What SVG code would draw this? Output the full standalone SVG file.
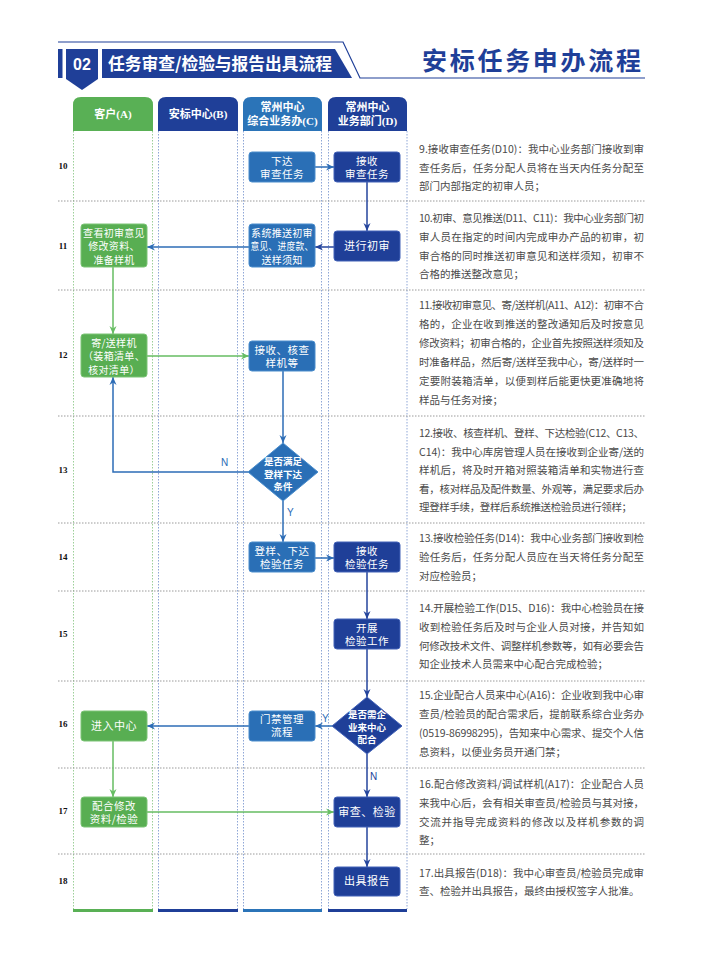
<svg xmlns="http://www.w3.org/2000/svg" width="703" height="954" viewBox="0 0 703 954">
<defs>
<style>
.cjk{font-family:"Noto Sans CJK SC","Noto Sans",sans-serif}
.nt{font-family:"Noto Sans CJK SC",sans-serif;font-size:10.5px;fill:#fff;text-anchor:middle;letter-spacing:0.5px}
.nt1{font-family:"Noto Sans CJK SC",sans-serif;font-size:11px;fill:#fff;text-anchor:middle;letter-spacing:0.5px}
.nt3{font-family:"Noto Sans CJK SC",sans-serif;font-size:10px;fill:#fff;text-anchor:middle;letter-spacing:0.3px}
.dt{font-family:"Noto Sans CJK SC",sans-serif;font-size:9.5px;fill:#fff;text-anchor:middle;font-weight:bold}
.hd{font-family:"Liberation Serif","Noto Sans CJK SC",serif;font-size:11px;fill:#fff;text-anchor:middle;font-weight:bold}
.rn{font-family:"Liberation Serif",serif;font-size:9px;font-weight:bold;fill:#111;text-anchor:middle}
.pt{font-family:"Noto Sans CJK SC",sans-serif;font-size:10.5px;fill:#4a4a4a}
.gr{fill:#58ae52;stroke:#7cc476;stroke-width:1}
.mb{fill:#2a6fb6;stroke:#4a8dcc;stroke-width:1}
.db{fill:#1f3f98;stroke:#4262b8;stroke-width:1}
.sep{stroke:#9a9a9a;stroke-width:1;stroke-dasharray:1.5 1.5;fill:none}
.lg{stroke:#9ccf98;stroke-width:1;stroke-dasharray:1.5 1.5}
.lb{stroke:#8ea6d6;stroke-width:1;stroke-dasharray:1.5 1.5}
.ag{stroke:#66bd62;stroke-width:1.5;fill:none;marker-end:url(#mg)}
.am{stroke:#2c6cb6;stroke-width:1.5;fill:none;marker-end:url(#mm)}
.ad{stroke:#24449c;stroke-width:1.5;fill:none;marker-end:url(#md)}
.yn{font-family:"Liberation Sans",sans-serif;font-size:10px;fill:#2a6cb6}
</style>
<marker id="mg" markerUnits="userSpaceOnUse" markerWidth="9" markerHeight="9" refX="8" refY="4" orient="auto"><path d="M0,0.5 L8,4 L0,7.5 L2.5,4 z" fill="#66bd62"/></marker>
<marker id="mm" markerUnits="userSpaceOnUse" markerWidth="9" markerHeight="9" refX="8" refY="4" orient="auto"><path d="M0,0.5 L8,4 L0,7.5 L2.5,4 z" fill="#2c6cb6"/></marker>
<marker id="md" markerUnits="userSpaceOnUse" markerWidth="9" markerHeight="9" refX="8" refY="4" orient="auto"><path d="M0,0.5 L8,4 L0,7.5 L2.5,4 z" fill="#24449c"/></marker>
</defs>
<rect width="703" height="954" fill="#fff"/>

<g id="header">
<polyline points="58,42 343,42 360,78 645,78" fill="none" stroke="#1f3f98" stroke-width="1.2"/>
<rect x="58" y="49" width="4.5" height="29" fill="#1f3f98"/>
<polygon points="66,49 98,49 98,79 82,90 66,79" fill="#1f3f98"/>
<text x="82" y="70" font-family="Liberation Sans,sans-serif" font-size="16" font-weight="bold" fill="#fff" text-anchor="middle">02</text>
<polygon points="102,49 335,49 352,78 102,78" fill="#1f3f98"/>
<text x="108" y="70" class="cjk" font-size="17" font-weight="bold" fill="#fff" textLength="224" lengthAdjust="spacingAndGlyphs">任务审查/检验与报告出具流程</text>
<text x="422" y="70" class="cjk" font-size="25" font-weight="bold" fill="#1f3f98" textLength="219" lengthAdjust="spacing">安标任务申办流程</text>
</g>

<g id="lanes">
<path d="M73,131 V105 Q73,97 81,97 H145 Q153,97 153,105 V131 Z" fill="#59b055"/>
<path d="M158,131 V105 Q158,97 166,97 H230 Q238,97 238,105 V131 Z" fill="#1f3f98"/>
<path d="M243,131 V105 Q243,97 251,97 H314 Q322,97 322,105 V131 Z" fill="#2b74b8"/>
<path d="M328,131 V105 Q328,97 336,97 H399 Q407,97 407,105 V131 Z" fill="#1f3f98"/>
<text x="113" y="118" class="hd">客户(A)</text>
<text x="198" y="118" class="hd">安标中心(B)</text>
<text x="282.5" y="111" class="hd">常州中心</text>
<text x="282.5" y="125" class="hd">综合业务办(C)</text>
<text x="367.5" y="111" class="hd">常州中心</text>
<text x="367.5" y="125" class="hd">业务部门(D)</text>
<line x1="73.5" y1="131" x2="73.5" y2="909" class="lg"/>
<line x1="152.5" y1="131" x2="152.5" y2="909" class="lg"/>
<line x1="158.5" y1="131" x2="158.5" y2="909" class="lb"/>
<line x1="237.5" y1="131" x2="237.5" y2="909" class="lb"/>
<line x1="243.5" y1="131" x2="243.5" y2="909" class="lb"/>
<line x1="321.5" y1="131" x2="321.5" y2="909" class="lb"/>
<line x1="328.5" y1="131" x2="328.5" y2="909" class="lb"/>
<line x1="407" y1="131" x2="407" y2="909" class="lb"/>
<rect x="73" y="909" width="80" height="3" fill="#59b055"/>
<rect x="158" y="909" width="80" height="3" fill="#1f3f98"/>
<rect x="243" y="909" width="79" height="3" fill="#2b74b8"/>
<rect x="328" y="909" width="79" height="3" fill="#1f3f98"/>
</g>

<g id="rows">
<line x1="58" y1="201" x2="645" y2="201" class="sep"/>
<line x1="58" y1="290" x2="645" y2="290" class="sep"/>
<line x1="58" y1="416" x2="645" y2="416" class="sep"/>
<line x1="58" y1="523" x2="645" y2="523" class="sep"/>
<line x1="58" y1="591" x2="645" y2="591" class="sep"/>
<line x1="58" y1="681" x2="645" y2="681" class="sep"/>
<line x1="58" y1="768" x2="645" y2="768" class="sep"/>
<line x1="58" y1="854" x2="645" y2="854" class="sep"/>
<text x="63" y="169" class="rn">10</text>
<text x="63" y="249" class="rn">11</text>
<text x="63" y="358" class="rn">12</text>
<text x="63" y="473" class="rn">13</text>
<text x="63" y="560" class="rn">14</text>
<text x="63" y="637" class="rn">15</text>
<text x="63" y="727" class="rn">16</text>
<text x="63" y="814" class="rn">17</text>
<text x="63" y="884" class="rn">18</text>
</g>

<g id="connectors">
<line x1="315" y1="167" x2="334" y2="167" class="am"/>
<line x1="367" y1="182" x2="367" y2="231" class="ad"/>
<line x1="334" y1="247" x2="315" y2="247" class="ad"/>
<line x1="249" y1="247" x2="147" y2="247" class="am"/>
<line x1="113" y1="267" x2="113" y2="334" class="ag"/>
<line x1="147" y1="356" x2="249" y2="356" class="ag"/>
<line x1="283" y1="371" x2="283" y2="443" class="am"/>
<path d="M248,472 H113 V377" class="am"/>
<text x="221" y="466" class="yn">N</text>
<line x1="283" y1="501" x2="283" y2="542" class="am"/>
<text x="287" y="516" class="yn">Y</text>
<line x1="315" y1="558" x2="334" y2="558" class="am"/>
<line x1="367" y1="572" x2="367" y2="619" class="ad"/>
<line x1="367" y1="649" x2="367" y2="697" class="ad"/>
<line x1="332" y1="726" x2="315" y2="726" class="am"/>
<text x="322" y="722" class="yn">Y</text>
<line x1="249" y1="726" x2="147" y2="726" class="am"/>
<line x1="113" y1="741" x2="113" y2="797" class="ag"/>
<line x1="147" y1="812" x2="334" y2="812" class="ag"/>
<line x1="367" y1="754" x2="367" y2="797" class="ad"/>
<text x="370" y="780" font-family="Liberation Sans,sans-serif" font-size="10" fill="#24449c">N</text>
<line x1="367" y1="827" x2="367" y2="867" class="ad"/>
</g>

<g id="C10"><rect x="249" y="152" width="66" height="30" rx="3" class="mb"/><text x="282" y="165" class="nt">下达</text><text x="282" y="178" class="nt">审查任务</text></g>
<g id="D10"><rect x="334" y="152" width="66" height="30" rx="3" class="db"/><text x="367" y="165" class="nt">接收</text><text x="367" y="178" class="nt">审查任务</text></g>
<g id="D11"><rect x="334" y="231" width="66" height="30" rx="3" class="db"/><text x="367" y="250" class="nt1">进行初审</text></g>
<g id="C11"><rect x="249" y="224" width="66" height="43" rx="3" class="mb"/><text x="282" y="236.5" class="nt3">系统推送初审</text><text x="282" y="250" class="nt3" textLength="63" lengthAdjust="spacingAndGlyphs">意见、进度款、</text><text x="282" y="263.5" class="nt3">送样须知</text></g>
<g id="A11"><rect x="81" y="224" width="66" height="43" rx="3" class="gr"/><text x="114" y="236.5" class="nt3">查看初审意见</text><text x="114" y="250" class="nt3">修改资料、</text><text x="114" y="263.5" class="nt3">准备样机</text></g>
<g id="A12"><rect x="81" y="334" width="66" height="43" rx="3" class="gr"/><text x="114" y="346.5" class="nt3">寄/送样机</text><text x="114" y="360" class="nt3" textLength="62" lengthAdjust="spacingAndGlyphs">（装箱清单、</text><text x="114" y="373.5" class="nt3">核对清单）</text></g>
<g id="C12"><rect x="249" y="341" width="66" height="30" rx="3" class="mb"/><text x="282" y="353.5" class="nt">接收、核查</text><text x="282" y="366.5" class="nt">样机等</text></g>
<g id="C13"><polygon points="283,443 318,472 283,501 248,472" fill="#2a6fb6" stroke="#4a8dcc" stroke-width="1"/><text x="283" y="465" class="dt" font-size="9">是否满足</text><text x="283" y="477.5" class="dt">登样下达</text><text x="283" y="490" class="dt">条件</text></g>
<g id="C14"><rect x="249" y="542" width="66" height="30" rx="3" class="mb"/><text x="282" y="555" class="nt">登样、下达</text><text x="282" y="568" class="nt">检验任务</text></g>
<g id="D14"><rect x="334" y="542" width="66" height="30" rx="3" class="db"/><text x="367" y="555" class="nt">接收</text><text x="367" y="568" class="nt">检验任务</text></g>
<g id="D15"><rect x="334" y="619" width="66" height="30" rx="3" class="db"/><text x="367" y="632" class="nt">开展</text><text x="367" y="645" class="nt">检验工作</text></g>
<g id="D16"><polygon points="367,697 402,726 367,754 332,726" fill="#1f3f98" stroke="#4262b8" stroke-width="1"/><text x="367" y="718" class="dt" font-size="9">是否需企</text><text x="367" y="730.5" class="dt">业来中心</text><text x="367" y="743" class="dt">配合</text></g>
<g id="C16"><rect x="249" y="711" width="66" height="30" rx="3" class="mb"/><text x="282" y="723" class="nt">门禁管理</text><text x="282" y="736" class="nt">流程</text></g>
<g id="A16"><rect x="81" y="711" width="66" height="30" rx="3" class="gr"/><text x="114" y="730" class="nt1">进入中心</text></g>
<g id="A17"><rect x="81" y="797" width="66" height="30" rx="3" class="gr"/><text x="114" y="809.5" class="nt">配合修改</text><text x="114" y="822.5" class="nt">资料/检验</text></g>
<g id="D17"><rect x="334" y="797" width="66" height="30" rx="3" class="db"/><text x="367" y="816" class="nt1">审查、检验</text></g>
<g id="D18"><rect x="334" y="867" width="66" height="29" rx="3" class="db"/><text x="367" y="885" class="nt1">出具报告</text></g>

<g id="notes">
<text x="419" y="153" class="pt" textLength="225" lengthAdjust="spacing">9.接收审查任务(D10)：我中心业务部门接收到审</text>
<text x="419" y="172" class="pt" textLength="225" lengthAdjust="spacing">查任务后，任务分配人员将在当天内任务分配至</text>
<text x="419" y="190" class="pt">部门内部指定的初审人员；</text>

<text x="419" y="222" class="pt" textLength="225" lengthAdjust="spacing">10.初审、意见推送(D11、C11)：我中心业务部门初</text>
<text x="419" y="241" class="pt" textLength="225" lengthAdjust="spacing">审人员在指定的时间内完成申办产品的初审，初</text>
<text x="419" y="259.5" class="pt" textLength="225" lengthAdjust="spacing">审合格的同时推送初审意见和送样须知，初审不</text>
<text x="419" y="278" class="pt">合格的推送整改意见；</text>

<text x="419" y="309" class="pt" textLength="225" lengthAdjust="spacing">11.接收初审意见、寄/送样机(A11、A12)：初审不合</text>
<text x="419" y="328" class="pt" textLength="225" lengthAdjust="spacing">格的，企业在收到推送的整改通知后及时按意见</text>
<text x="419" y="347" class="pt" textLength="225" lengthAdjust="spacing">修改资料；初审合格的，企业首先按照送样须知及</text>
<text x="419" y="366" class="pt" textLength="225" lengthAdjust="spacing">时准备样品，然后寄/送样至我中心，寄/送样时一</text>
<text x="419" y="385" class="pt" textLength="225" lengthAdjust="spacing">定要附装箱清单，以便到样后能更快更准确地将</text>
<text x="419" y="404" class="pt">样品与任务对接；</text>

<text x="419" y="437" class="pt" textLength="225" lengthAdjust="spacing">12.接收、核查样机、登样、下达检验(C12、C13、</text>
<text x="419" y="456" class="pt" textLength="225" lengthAdjust="spacing">C14)：我中心库房管理人员在接收到企业寄/送的</text>
<text x="419" y="474" class="pt" textLength="225" lengthAdjust="spacing">样机后，将及时开箱对照装箱清单和实物进行查</text>
<text x="419" y="492.5" class="pt" textLength="225" lengthAdjust="spacing">看，核对样品及配件数量、外观等，满足要求后办</text>
<text x="419" y="511" class="pt" textLength="213" lengthAdjust="spacing">理登样手续，登样后系统推送检验员进行领样；</text>

<text x="419" y="542" class="pt" textLength="225" lengthAdjust="spacing">13.接收检验任务(D14)：我中心业务部门接收到检</text>
<text x="419" y="561" class="pt" textLength="225" lengthAdjust="spacing">验任务后，任务分配人员应在当天将任务分配至</text>
<text x="419" y="580" class="pt">对应检验员；</text>

<text x="419" y="612" class="pt" textLength="225" lengthAdjust="spacing">14.开展检验工作(D15、D16)：我中心检验员在接</text>
<text x="419" y="631" class="pt" textLength="225" lengthAdjust="spacing">收到检验任务后及时与企业人员对接，并告知如</text>
<text x="419" y="650" class="pt" textLength="225" lengthAdjust="spacing">何修改技术文件、调整样机参数等，如有必要会告</text>
<text x="419" y="668" class="pt">知企业技术人员需来中心配合完成检验；</text>

<text x="419" y="699" class="pt" textLength="225" lengthAdjust="spacing">15.企业配合人员来中心(A16)：企业收到我中心审</text>
<text x="419" y="718" class="pt" textLength="225" lengthAdjust="spacing">查员/检验员的配合需求后，提前联系综合业务办</text>
<text x="419" y="737" class="pt" textLength="225" lengthAdjust="spacing">(0519-86998295)，告知来中心需求、提交个人信</text>
<text x="419" y="756" class="pt">息资料，以便业务员开通门禁；</text>

<text x="419" y="788" class="pt" textLength="225" lengthAdjust="spacing">16.配合修改资料/调试样机(A17)：企业配合人员</text>
<text x="419" y="807" class="pt" textLength="225" lengthAdjust="spacing">来我中心后，会有相关审查员/检验员与其对接，</text>
<text x="419" y="826" class="pt" textLength="225" lengthAdjust="spacing">交流并指导完成资料的修改以及样机参数的调</text>
<text x="419" y="844" class="pt">整；</text>

<text x="419" y="877" class="pt" textLength="225" lengthAdjust="spacing">17.出具报告(D18)：我中心审查员/检验员完成审</text>
<text x="419" y="895" class="pt">查、检验并出具报告，最终由授权签字人批准。</text>
</g>
</svg>
